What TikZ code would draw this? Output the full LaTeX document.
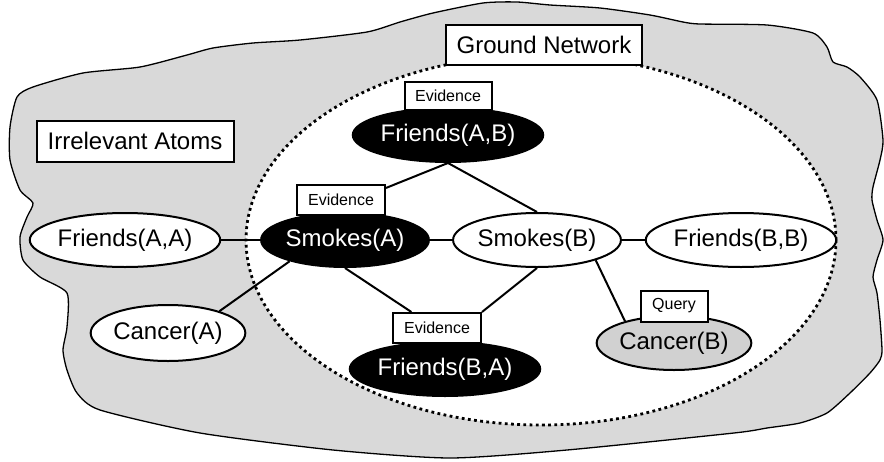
\documentclass[tikz,border=0pt]{standalone}
\usepackage{fontspec}
\setmainfont{Liberation Sans}
\usetikzlibrary{shapes.geometric}
\tikzset{
   centered/.style = { align=center, anchor=center },
       blob/.style = { draw, line width=1.3pt, fill=black!15 },
  groundnet/.style = { ellipse, fill=white, inner sep=0pt },
       dots/.style = { line width=2.8pt, dash pattern=on 2.8pt off 3.4pt },
       atom/.style = { ellipse, draw, line width=2pt, fill=white, inner sep=0pt,
                       minimum height=54pt, font=\fontsize{24}{28}\selectfont, centered },
   observed/.style = { atom, fill=black, text=white },
      query/.style = { atom, fill=black!18 },
        tag/.style = { draw, line width=2pt, fill=white, inner sep=0pt, minimum width=88pt,
                       minimum height=30pt, font=\fontsize{16}{19}\selectfont, centered },
      title/.style = { draw, line width=2pt, fill=white, inner sep=0pt, minimum width=197pt,
                       minimum height=41pt, font=\fontsize{24}{28}\selectfont, centered },
       link/.style = { line width=2pt },
}
\newcommand*{\evid}{Evidence}

\begin{document}
\begin{tikzpicture}[x=1pt, y=-1pt]
  \useasboundingbox (0,0) rectangle (884,461);
  % irrelevant region
  \draw [blob] plot [smooth cycle, tension=0.4] coordinates {
    (10,127) (17,97) (33,87) (83,73) (140,67) (187,55) (213,48) (253,43) (300,40)
    (367,32) (400,22) (433,13) (483,3) (517,2) (550,5) (600,8) (650,15) (683,22)
    (700,24) (767,25) (813,33) (827,47) (833,62) (847,67) (860,77) (877,100)
    (883,140) (880,160) (873,187) (872,200) (877,220) (883,240) (877,260) (873,277)
    (877,293) (880,320) (882,350) (880,360) (870,373) (850,393) (827,413) (800,423)
    (767,428) (734,433) (567,450) (450,458) (333,450) (200,433) (100,410) (77,393)
    (67,370) (63,350) (67,327) (67,293) (40,277) (23,260) (20,237) (27,217)
    (33,203) (20,190) (10,160) };
  % ground network
  \node [groundnet, minimum width=590pt, minimum height=370pt] (net) at (541,240) {};
  \draw [dots] (net.center) ellipse [x radius=295pt, y radius=185pt];

  \node [atom, minimum width=170pt]     (faa) at (125,240) {Friends(A,A)};
  \node [observed, minimum width=146pt] (sa)  at (345,240) {Smokes(A)};
  \node [atom, minimum width=144pt]     (sb)  at (537,240) {Smokes(B)};
  \node [atom, minimum width=170pt]     (fbb) at (741,240) {Friends(B,B)};
  \node [observed, minimum width=176pt] (fab) at (448,135) {Friends(A,B)};
  \node [observed, minimum width=184pt] (fba) at (445,369) {Friends(B,A)};
  \node [atom, minimum width=144pt, minimum height=56pt] (ca) at (168,333) {Cancer(A)};
  \node [query, minimum width=146pt]    (cb)  at (674,343) {Cancer(B)};

  \node [tag, minimum width=87pt, minimum height=28pt] (evab) at (448,96) {\evid};
  \node [tag] (evsa) at (341,200) {\evid};
  \node [tag] (evba) at (437,328) {\evid};
  \node [tag, minimum width=67pt, minimum height=31pt] (qcb) at (674,306) {Query};

  \node [title, minimum width=196pt, minimum height=40pt] (gn) at (544,45) {Ground Network};
  \node [title] (irr) at (135,141) {Irrelevant Atoms};

  \foreach \a/\b in {faa/sa, sa/sb, sb/fbb}
    \draw [link] (\a) -- (\b);
  \draw [link] (evsa.15)  -- (fab.south);
  \draw [link] (fab.south) -- (sb.north);
  \draw [link] (sa.south)  -- (evba.148);
  \draw [link] (sb.south)  -- (evba.north east);
  \draw [link] (sa.201)    -- (ca.23);
  \draw [link] (sb.-19)    -- (cb.156);
\end{tikzpicture}
\end{document}
